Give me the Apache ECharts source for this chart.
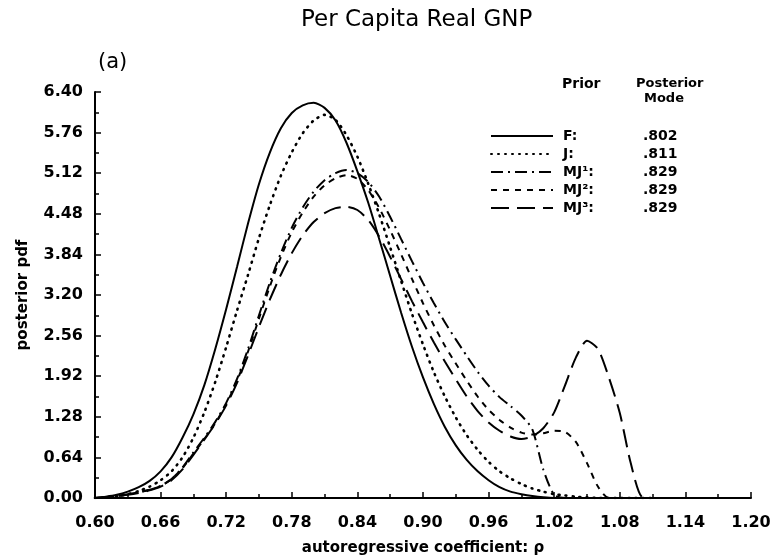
<!DOCTYPE html>
<html>
<head>
<meta charset="utf-8">
<script src="https://cdn.jsdelivr.net/npm/echarts@6/dist/echarts.min.js"></script>
<style>
  html, body { margin: 0; padding: 0; background: #fff; }
  #chart { width: 778px; height: 560px; }
</style>
</head>
<body>
<div id="chart"></div>
<script>
// autoregressive coefficient, step 0.01
var rho = [0.60, 0.61, 0.62, 0.63, 0.64, 0.65, 0.66, 0.67, 0.68, 0.69,
  0.70, 0.71, 0.72, 0.73, 0.74, 0.75, 0.76, 0.77, 0.78, 0.79,
  0.80, 0.81, 0.82, 0.83, 0.84, 0.85, 0.86, 0.87, 0.88, 0.89,
  0.90, 0.91, 0.92, 0.93, 0.94, 0.95, 0.96, 0.97, 0.98, 0.99,
  1.00, 1.01, 1.02, 1.03, 1.04, 1.05, 1.06, 1.07, 1.08, 1.09,
  1.10, 1.11]

// posterior pdf under each prior
var pdfF = [0, 0.02, 0.05, 0.10, 0.17, 0.27, 0.42, 0.64, 0.95, 1.32,
  1.78, 2.35, 2.98, 3.65, 4.33, 4.95, 5.45, 5.83, 6.07, 6.19,
  6.23, 6.15, 5.95, 5.60, 5.15, 4.65, 4.08, 3.50, 2.92, 2.38,
  1.90, 1.48, 1.12, 0.83, 0.60, 0.42, 0.28, 0.17, 0.10, 0.06,
  0.03, 0.01, 0, 0, 0, 0, 0, 0, 0, 0,
  0, 0]
var pdfJ = [0, 0.01, 0.03, 0.06, 0.11, 0.18, 0.28, 0.42, 0.64, 0.95,
  1.35, 1.83, 2.38, 2.96, 3.52, 4.10, 4.62, 5.08, 5.45, 5.75,
  5.95, 6.04, 5.96, 5.72, 5.38, 4.95, 4.47, 3.95, 3.42, 2.90,
  2.42, 1.98, 1.60, 1.27, 0.99, 0.76, 0.57, 0.42, 0.31, 0.22,
  0.15, 0.10, 0.06, 0.04, 0.02, 0.01, 0, 0, 0, 0,
  0, 0]
var pdfMJ1 = [0, 0.01, 0.03, 0.06, 0.09, 0.13, 0.19, 0.30, 0.48, 0.72,
  0.95, 1.20, 1.50, 1.88, 2.35, 2.88, 3.40, 3.86, 4.26, 4.58,
  4.83, 5.01, 5.12, 5.17, 5.12, 4.98, 4.75, 4.43, 4.08, 3.73,
  3.39, 3.07, 2.77, 2.50, 2.24, 1.99, 1.77, 1.59, 1.45, 1.30,
  1.08, 0.45, 0.05, 0, 0, 0, 0, 0, 0, 0,
  0, 0]
var pdfMJ2 = [0, 0.01, 0.03, 0.06, 0.09, 0.13, 0.19, 0.30, 0.47, 0.70,
  0.93, 1.18, 1.48, 1.85, 2.31, 2.83, 3.34, 3.80, 4.19, 4.50,
  4.75, 4.93, 5.04, 5.09, 5.03, 4.85, 4.57, 4.22, 3.84, 3.45,
  3.07, 2.72, 2.40, 2.12, 1.85, 1.60, 1.39, 1.23, 1.11, 1.03,
  1.00, 1.02, 1.06, 1.04, 0.88, 0.55, 0.18, 0, 0, 0,
  0, 0]
var pdfMJ3 = [0, 0.01, 0.03, 0.05, 0.08, 0.12, 0.18, 0.28, 0.45, 0.68,
  0.92, 1.17, 1.46, 1.82, 2.25, 2.70, 3.13, 3.52, 3.86, 4.14,
  4.35, 4.49, 4.57, 4.59, 4.54, 4.38, 4.12, 3.80, 3.45, 3.10,
  2.77, 2.45, 2.15, 1.87, 1.60, 1.37, 1.19, 1.06, 0.97, 0.93,
  0.97, 1.10, 1.35, 1.78, 2.22, 2.48, 2.35, 1.90, 1.34, 0.55,
  0.02, 0]

var priors = ['F', 'J', 'MJ¹', 'MJ²', 'MJ³']
var modes = ['.802', '.811', '.829', '.829', '.829']
var yTicks = ['0.00', '0.64', '1.28', '1.92', '2.56', '3.20', '3.84', '4.48', '5.12', '5.76', '6.40']

var FONT = 'DejaVu Sans'

function pairs (ys) {
  return rho.map(function (x, i) { return [x, ys[i]] })
}

function line (name, ys, dash, width, cap) {
  return {
    name: name,
    type: 'line',
    data: pairs(ys),
    symbol: 'none',
    smooth: 0.25,
    lineStyle: { color: '#000', width: width, type: dash, cap: cap || 'butt' }
  }
}

var chart = echarts.init(document.getElementById('chart'), null, { renderer: 'canvas' })

var options = {
  backgroundColor: '#fff',
  animation: false,
  title: {
    text: 'Per Capita Real GNP',
    left: 296,
    top: 4,
    textStyle: { fontFamily: FONT, fontSize: 23, fontWeight: 'normal', color: '#000' }
  },
  grid: {
    left: 95,
    right: 27,
    top: 92,
    bottom: 62,
    containLabel: false,
    outerBoundsMode: 'none'
  },
  legend: {
    orient: 'vertical',
    left: 485,
    top: 124,
    itemWidth: 62,
    itemHeight: 14,
    itemGap: 4,
    data: priors,
    itemStyle: { opacity: 0 },
    formatter: function (name) {
      return '{n|' + name + ':}{v|' + modes[priors.indexOf(name)] + '}'
    },
    textStyle: {
      fontFamily: FONT,
      color: '#000',
      rich: {
        n: { fontFamily: FONT, fontSize: 14, fontWeight: 'bold', width: 80, padding: [0, 0, 0, 5] },
        v: { fontFamily: FONT, fontSize: 14, fontWeight: 'bold' }
      }
    }
  },
  xAxis: {
    type: 'value',
    min: 0.6,
    max: 1.2,
    interval: 0.06,
    name: 'autoregressive coefficient: ρ',
    nameLocation: 'middle',
    nameGap: 43,
    nameTextStyle: { fontFamily: FONT, fontSize: 15, fontWeight: 'bold', color: '#000' },
    axisLine: { lineStyle: { color: '#000', width: 2 } },
    axisTick: { inside: true, length: 6, lineStyle: { color: '#000', width: 1.5 } },
    minorTick: { show: true, splitNumber: 2, length: 4, lineStyle: { color: '#000', width: 1.5 } },
    splitLine: { show: false },
    axisLabel: {
      margin: 17,
      fontFamily: FONT,
      fontSize: 16,
      fontWeight: 'bold',
      color: '#000',
      formatter: function (v) { return v.toFixed(2) }
    }
  },
  yAxis: {
    type: 'value',
    min: 0,
    max: 6.4,
    interval: 0.64,
    name: 'posterior pdf',
    nameLocation: 'middle',
    nameGap: 64,
    nameTextStyle: { fontFamily: FONT, fontSize: 15, fontWeight: 'bold', color: '#000' },
    axisLine: { show: true, lineStyle: { color: '#000', width: 2 } },
    axisTick: { show: true, inside: true, length: 6, lineStyle: { color: '#000', width: 1.5 } },
    minorTick: { show: true, splitNumber: 2, length: 4, lineStyle: { color: '#000', width: 1.5 } },
    splitLine: { show: false },
    axisLabel: {
      margin: 12,
      fontFamily: FONT,
      fontSize: 16,
      fontWeight: 'bold',
      color: '#000',
      formatter: function (v) { return yTicks[Math.round(v / 0.64)] }
    }
  },
  graphic: [
    { type: 'text', left: 98, top: 52, style: { text: '(a)', fontFamily: FONT, fontSize: 21, fill: '#000' } },
    { type: 'text', left: 562, top: 77, style: { text: 'Prior', fontFamily: FONT, fontSize: 14, fontWeight: 'bold', fill: '#000' } },
    { type: 'text', left: 636, top: 77, style: { text: 'Posterior', fontFamily: FONT, fontSize: 13, fontWeight: 'bold', fill: '#000' } },
    { type: 'text', left: 644, top: 92, style: { text: 'Mode', fontFamily: FONT, fontSize: 13, fontWeight: 'bold', fill: '#000' } }
  ],
  series: [
    line('F', pdfF, 'solid', 2),
    line('J', pdfJ, [1, 6], 2.6, 'round'),
    line('MJ¹', pdfMJ1, [12, 5, 2, 5], 2),
    line('MJ²', pdfMJ2, [6, 6], 2),
    line('MJ³', pdfMJ3, [18, 8], 2)
  ]
}

chart.setOption(options)
</script>
</body>
</html>
